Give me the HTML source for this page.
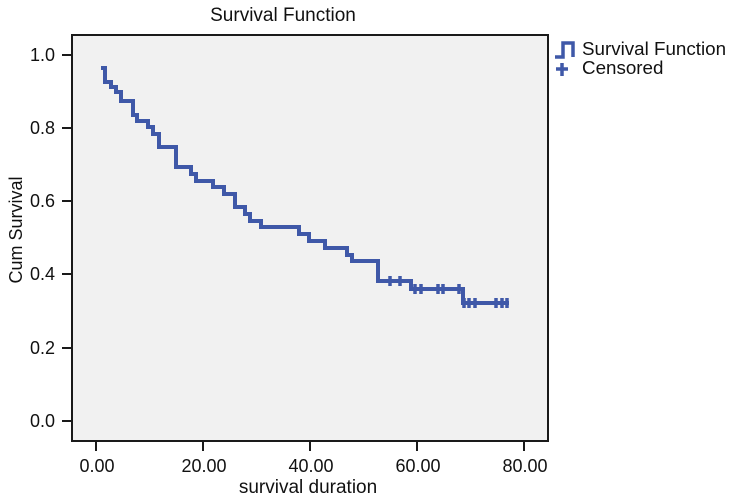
<!DOCTYPE html>
<html><head><meta charset="utf-8"><style>
html,body{margin:0;padding:0;background:#fff;}
svg{display:block;font-family:"Liberation Sans",Arial,sans-serif;}
</style></head><body>
<svg width="735" height="502" viewBox="0 0 735 502">
<text x="283" y="21" font-size="19" text-anchor="middle" fill="#111">Survival Function</text>
<rect x="72" y="35" width="476" height="406" fill="#f1f1f1" stroke="#1a1a1a" stroke-width="2"/>
<g stroke="#1a1a1a" stroke-width="2">
<line x1="62" y1="55" x2="72" y2="55"/><line x1="62" y1="128" x2="72" y2="128"/>
<line x1="62" y1="201" x2="72" y2="201"/><line x1="62" y1="274" x2="72" y2="274"/>
<line x1="62" y1="348" x2="72" y2="348"/><line x1="62" y1="421" x2="72" y2="421"/>
<line x1="96" y1="441" x2="96" y2="451"/><line x1="203" y1="441" x2="203" y2="451"/>
<line x1="310" y1="441" x2="310" y2="451"/><line x1="417" y1="441" x2="417" y2="451"/>
<line x1="524" y1="441" x2="524" y2="451"/>
</g>
<g font-size="18" fill="#111" text-anchor="end">
<text x="55" y="61">1.0</text><text x="55" y="134">0.8</text><text x="55" y="207">0.6</text>
<text x="55" y="280">0.4</text><text x="55" y="354">0.2</text><text x="55" y="427">0.0</text>
</g>
<g font-size="18" fill="#111" text-anchor="middle">
<text x="97" y="472">0.00</text><text x="204" y="472">20.00</text><text x="311" y="472">40.00</text>
<text x="418" y="472">60.00</text><text x="525" y="472">80.00</text>
</g>
<text x="308" y="493" font-size="19" fill="#111" text-anchor="middle">survival duration</text>
<text transform="translate(22,230) rotate(-90)" font-size="18" fill="#111" text-anchor="middle">Cum Survival</text>
<g fill="none" stroke="#3f58a8" stroke-width="4" stroke-linejoin="miter">
<polyline points="101,68 105,68 105,82 111,82 111,87 116,87 116,92 121,92 121,101 133,101 133,115 137,115 137,121 148,121 148,127 153,127 153,134 159,134 159,147 176,147 176,167 191,167 191,174 196,174 196,181 213,181 213,187 224,187 224,194 235,194 235,207 245,207 245,214 250,214 250,221 261,221 261,227 299,227 299,234 309,234 309,241 325,241 325,248 347,248 347,255 352,255 352,261 378,261 378,281 411,281 411,289 463,289 463,303 509,303"/>
</g>
<g stroke="#3f58a8" stroke-width="3.5">
<line x1="390" y1="276" x2="390" y2="286"/><line x1="400" y1="276" x2="400" y2="286"/>
<line x1="415" y1="284" x2="415" y2="294"/><line x1="421" y1="284" x2="421" y2="294"/>
<line x1="438" y1="284" x2="438" y2="294"/><line x1="443" y1="284" x2="443" y2="294"/>
<line x1="459" y1="284" x2="459" y2="294"/>
<line x1="464" y1="298" x2="464" y2="308"/><line x1="469" y1="298" x2="469" y2="308"/>
<line x1="475" y1="298" x2="475" y2="308"/><line x1="496" y1="298" x2="496" y2="308"/>
<line x1="502" y1="298" x2="502" y2="308"/><line x1="507" y1="298" x2="507" y2="308"/>
</g>
<g stroke="#3f58a8" stroke-width="3.5" fill="none">
<polyline points="555,57 563,57 563,43 573,43 573,57"/>
<line x1="556" y1="69" x2="568" y2="69"/><line x1="562" y1="63" x2="562" y2="76"/>
</g>
<g font-size="18.8" fill="#111">
<text x="582" y="55">Survival Function</text>
<text x="582" y="74">Censored</text>
</g>
</svg>
</body></html>
